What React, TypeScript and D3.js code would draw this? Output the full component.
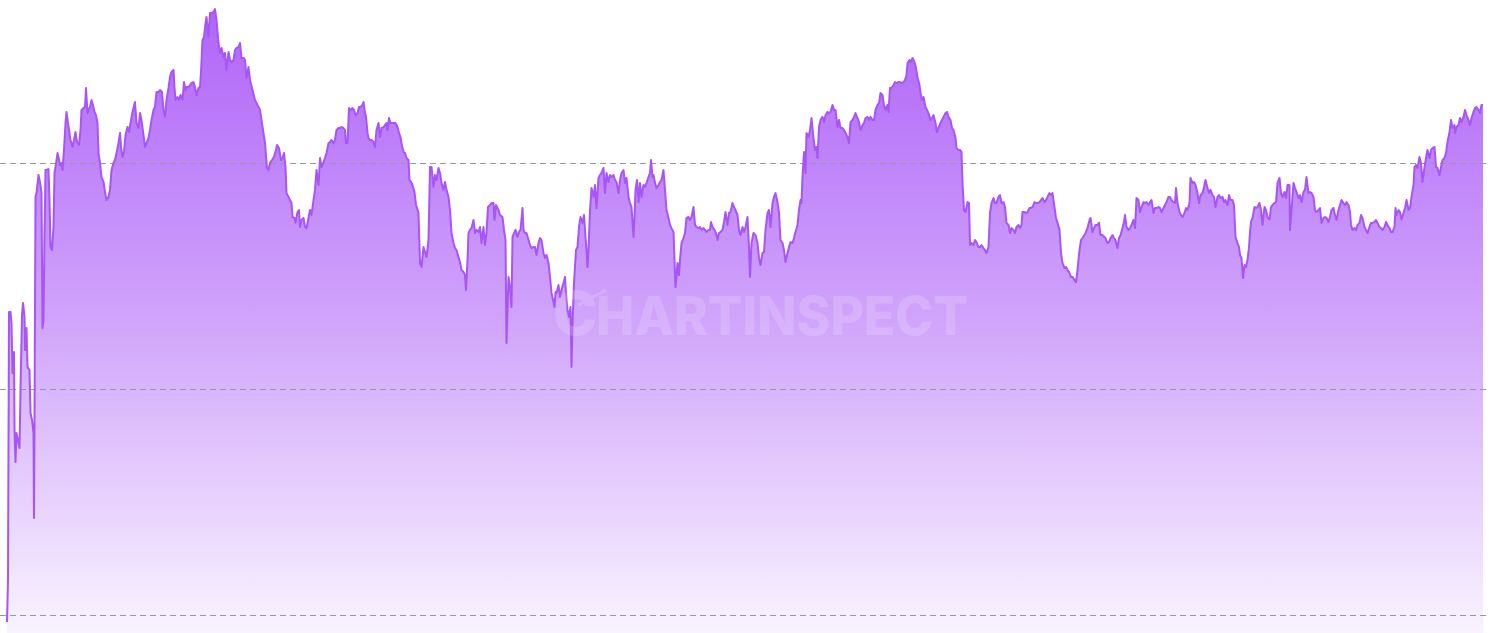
import React from "react";
import * as d3 from "d3";

const gridTicks: number[] = [0, 100, 200];
const watermarkText = "HARTINSPECT";
const dayCount = 2952;

// [day index, value]
const series: [number, number][] = [
  [0, -3.1], [2, 15.5], [4, 134.1], [7, 134.1], [9, 129.2], [11, 107.1], [14, 116.4], [15, 81.9], [17, 67.7], [19, 80.5],
  [23, 76.1], [25, 73.9], [27, 99.6], [30, 132.7], [32, 138.1], [35, 131.9], [36, 117.3], [39, 127.0], [41, 109.7], [45, 108.4],
  [47, 89.4], [50, 86.3], [53, 80.5], [54, 42.9], [55, 85.0], [57, 185.0], [59, 186.7], [63, 194.7], [66, 191.6], [69, 186.7],
  [71, 127.0], [73, 130.5], [75, 169.0], [77, 196.9], [83, 197.3], [85, 183.6], [87, 162.8], [90, 161.5], [93, 171.7], [95, 195.6],
  [97, 198.2], [101, 204.4], [103, 202.7], [106, 199.1], [109, 200.0], [111, 196.9], [114, 205.8], [117, 217.7], [119, 222.6], [122, 217.7],
  [125, 213.3], [127, 210.2], [131, 207.1], [134, 210.2], [137, 213.7], [140, 209.3], [144, 208.0], [147, 214.6], [149, 223.5], [153, 224.3],
  [156, 224.8], [158, 233.2], [161, 222.1], [163, 223.5], [166, 224.8], [169, 227.9], [173, 224.8], [175, 222.6], [178, 221.2], [181, 217.7],
  [183, 204.4], [186, 200.0], [189, 193.8], [193, 191.6], [196, 187.2], [199, 183.6], [203, 185.0], [206, 188.1], [209, 196.9], [213, 200.0],
  [216, 201.3], [219, 204.4], [223, 208.8], [226, 213.3], [228, 207.1], [231, 202.7], [234, 204.9], [237, 212.4], [241, 215.9], [244, 213.7],
  [247, 217.7], [251, 222.6], [256, 227.0], [259, 217.7], [263, 215.5], [266, 222.1], [269, 219.0], [273, 212.4], [276, 207.1], [279, 208.8],
  [283, 211.1], [286, 214.6], [289, 219.0], [293, 223.5], [296, 224.8], [299, 231.4], [303, 231.4], [306, 232.3], [310, 231.4], [313, 223.5],
  [316, 220.4], [319, 227.9], [323, 233.2], [326, 238.1], [329, 240.3], [333, 241.2], [335, 233.6], [337, 227.9], [341, 229.2], [344, 227.9],
  [347, 230.1], [351, 227.9], [354, 235.8], [357, 232.3], [359, 233.6], [363, 233.6], [366, 234.5], [369, 235.4], [373, 235.8], [376, 233.6],
  [379, 230.1], [383, 233.2], [386, 233.6], [388, 240.3], [391, 254.4], [394, 255.8], [397, 261.9], [399, 264.6], [403, 255.8], [406, 266.4],
  [409, 266.4], [413, 266.8], [416, 268.1], [419, 263.3], [423, 253.1], [426, 248.7], [429, 250.9], [433, 246.9], [436, 248.7], [439, 241.2],
  [443, 249.1], [446, 245.6], [449, 244.7], [453, 245.6], [456, 250.0], [459, 250.9], [463, 251.3], [466, 253.1], [469, 246.5], [473, 246.5],
  [476, 245.6], [479, 237.6], [483, 242.5], [486, 236.7], [496, 227.9], [506, 223.5], [512, 214.6], [516, 208.8], [520, 197.8], [523, 196.9],
  [526, 200.0], [530, 201.3], [534, 202.7], [538, 205.8], [540, 208.0], [544, 206.6], [548, 201.3], [551, 202.2], [554, 204.4], [557, 198.2],
  [559, 186.7], [563, 185.0], [566, 183.6], [569, 182.3], [571, 176.1], [575, 175.7], [577, 173.5], [581, 178.3], [584, 179.2], [586, 171.7],
  [589, 174.8], [593, 175.7], [596, 171.7], [599, 171.2], [603, 175.7], [606, 179.2], [609, 177.0], [613, 183.6], [616, 188.1], [619, 196.9],
  [623, 190.3], [626, 202.2], [629, 198.2], [633, 200.4], [636, 202.2], [639, 204.4], [643, 208.8], [646, 209.3], [649, 210.2], [653, 208.8],
  [656, 210.2], [659, 214.6], [663, 215.5], [666, 215.5], [669, 215.9], [673, 215.5], [676, 214.6], [678, 208.8], [681, 208.8], [684, 224.3],
  [687, 223.5], [691, 224.3], [694, 223.5], [697, 221.2], [701, 222.1], [704, 224.8], [707, 224.8], [711, 225.7], [713, 227.0], [715, 223.5],
  [718, 220.4], [721, 213.3], [723, 211.1], [726, 210.2], [729, 210.2], [733, 209.3], [736, 207.1], [739, 214.6], [743, 217.7], [746, 211.5],
  [749, 215.5], [753, 215.9], [756, 216.8], [759, 217.7], [761, 214.6], [764, 219.9], [767, 217.7], [771, 217.7], [774, 217.7], [777, 217.7],
  [781, 215.9], [784, 213.3], [787, 211.5], [789, 208.8], [793, 204.9], [796, 204.4], [799, 202.2], [803, 201.3], [805, 192.5], [808, 191.6],
  [811, 190.3], [815, 187.2], [818, 181.4], [823, 177.9], [826, 155.8], [829, 154.0], [833, 162.8], [836, 160.6], [839, 158.4], [843, 165.9],
  [846, 198.2], [849, 198.2], [853, 189.4], [856, 194.7], [859, 192.5], [863, 197.8], [866, 195.6], [869, 191.2], [873, 188.1], [876, 191.6],
  [879, 188.1], [883, 185.0], [886, 179.2], [889, 169.0], [893, 164.6], [896, 162.4], [899, 161.5], [903, 158.4], [906, 156.2], [909, 152.7],
  [913, 151.8], [916, 150.4], [918, 143.8], [921, 157.1], [923, 169.0], [926, 170.4], [929, 171.2], [933, 174.8], [936, 169.0], [939, 170.4],
  [943, 169.5], [946, 171.7], [949, 164.6], [953, 171.7], [956, 163.7], [959, 169.0], [962, 180.5], [966, 181.4], [969, 182.3], [973, 182.3],
  [975, 174.8], [978, 181.4], [983, 179.2], [986, 177.0], [991, 176.1], [994, 170.4], [997, 165.9], [999, 120.4], [1003, 149.6], [1006, 145.1],
  [1009, 136.3], [1011, 167.3], [1015, 169.5], [1017, 170.4], [1021, 167.3], [1024, 169.5], [1027, 170.4], [1031, 180.1], [1033, 170.4], [1036, 169.0],
  [1039, 169.0], [1043, 165.9], [1046, 163.7], [1049, 162.4], [1053, 162.8], [1056, 162.8], [1059, 159.3], [1063, 164.6], [1066, 166.8], [1069, 165.9],
  [1073, 160.2], [1076, 158.0], [1079, 159.3], [1083, 155.8], [1086, 149.6], [1089, 142.5], [1093, 138.5], [1095, 136.3], [1097, 142.9], [1099, 142.5],
  [1103, 146.0], [1106, 140.7], [1109, 143.8], [1113, 146.9], [1116, 149.6], [1118, 142.5], [1121, 135.0], [1124, 131.9], [1127, 136.3], [1129, 109.7],
  [1131, 129.2], [1134, 146.9], [1138, 161.5], [1141, 162.8], [1144, 171.7], [1147, 176.1], [1151, 173.5], [1154, 177.0], [1157, 167.3], [1159, 161.5],
  [1161, 154.0], [1163, 161.5], [1166, 179.2], [1169, 188.9], [1173, 185.0], [1176, 190.3], [1179, 180.1], [1183, 193.4], [1186, 194.7], [1189, 195.6],
  [1193, 197.8], [1196, 186.7], [1199, 195.6], [1203, 191.6], [1206, 194.7], [1209, 193.8], [1213, 194.7], [1216, 192.5], [1219, 191.6], [1223, 186.7],
  [1226, 192.5], [1229, 195.6], [1233, 196.9], [1236, 191.2], [1239, 193.4], [1243, 185.0], [1246, 182.3], [1249, 180.5], [1253, 167.3], [1255, 176.1],
  [1257, 188.1], [1260, 192.5], [1263, 182.7], [1266, 191.2], [1269, 185.0], [1273, 190.3], [1276, 189.4], [1279, 191.2], [1283, 193.8], [1286, 195.6],
  [1288, 201.3], [1291, 193.8], [1293, 194.7], [1296, 191.2], [1299, 188.9], [1303, 190.3], [1306, 191.6], [1309, 192.5], [1313, 196.9], [1316, 188.1],
  [1319, 179.2], [1323, 175.7], [1326, 172.6], [1329, 171.2], [1333, 169.5], [1335, 157.1], [1337, 145.1], [1341, 155.8], [1344, 150.4], [1346, 157.1],
  [1349, 164.6], [1353, 166.8], [1356, 169.0], [1359, 175.7], [1363, 176.1], [1366, 174.8], [1369, 176.1], [1373, 180.5], [1376, 172.6], [1379, 171.7],
  [1383, 171.2], [1386, 171.7], [1389, 170.4], [1393, 171.2], [1396, 170.4], [1399, 169.5], [1403, 170.4], [1406, 170.4], [1408, 173.9], [1411, 171.7],
  [1415, 170.4], [1418, 169.0], [1421, 165.9], [1424, 169.0], [1427, 169.5], [1431, 170.4], [1434, 173.9], [1437, 178.3], [1441, 172.6], [1444, 177.9],
  [1447, 178.3], [1451, 182.3], [1454, 180.5], [1457, 179.2], [1461, 177.0], [1464, 170.4], [1467, 168.1], [1471, 171.7], [1474, 169.5], [1477, 171.7],
  [1481, 176.1], [1484, 162.8], [1486, 149.6], [1489, 164.6], [1493, 169.0], [1497, 168.1], [1501, 164.6], [1504, 158.0], [1507, 154.9], [1511, 160.2],
  [1514, 160.6], [1517, 170.4], [1521, 177.9], [1524, 179.2], [1527, 171.7], [1531, 182.3], [1534, 185.0], [1537, 186.7], [1541, 182.7], [1544, 177.9],
  [1547, 165.9], [1551, 164.6], [1554, 161.5], [1557, 156.2], [1561, 160.2], [1564, 162.8], [1567, 165.0], [1571, 164.6], [1574, 166.8], [1577, 169.5],
  [1581, 172.6], [1584, 179.2], [1587, 183.6], [1589, 182.3], [1591, 193.8], [1594, 204.9], [1597, 195.6], [1599, 213.3], [1603, 211.5], [1606, 214.6],
  [1609, 219.9], [1613, 211.1], [1616, 205.8], [1619, 207.1], [1621, 202.2], [1624, 215.9], [1627, 219.0], [1631, 220.4], [1634, 218.1], [1637, 221.2],
  [1641, 222.6], [1644, 222.1], [1647, 222.6], [1651, 225.7], [1654, 223.5], [1657, 223.5], [1661, 215.9], [1664, 219.0], [1667, 215.5], [1671, 215.5],
  [1674, 214.6], [1677, 213.3], [1681, 211.5], [1684, 208.8], [1687, 218.1], [1691, 219.0], [1694, 220.4], [1697, 222.1], [1701, 219.9], [1704, 218.1],
  [1707, 214.6], [1711, 216.8], [1714, 217.7], [1717, 219.9], [1721, 220.4], [1724, 219.0], [1727, 220.4], [1731, 219.0], [1734, 219.0], [1737, 223.5],
  [1741, 225.7], [1744, 226.5], [1747, 231.0], [1751, 230.1], [1754, 225.7], [1757, 223.5], [1761, 225.7], [1763, 222.6], [1766, 233.2], [1769, 233.2],
  [1773, 234.5], [1776, 235.8], [1779, 235.4], [1783, 235.8], [1786, 235.8], [1789, 235.4], [1793, 235.8], [1796, 236.7], [1799, 238.9], [1801, 244.2],
  [1805, 245.6], [1808, 244.7], [1811, 246.5], [1815, 244.7], [1818, 242.0], [1821, 238.1], [1825, 234.5], [1827, 231.0], [1830, 227.9], [1833, 229.2],
  [1837, 224.8], [1840, 223.5], [1843, 222.1], [1847, 219.0], [1850, 219.9], [1853, 221.2], [1857, 217.7], [1860, 213.7], [1863, 215.5], [1867, 217.7],
  [1870, 219.0], [1873, 220.4], [1877, 222.1], [1880, 222.6], [1883, 220.4], [1887, 219.0], [1890, 215.5], [1893, 214.6], [1897, 211.1], [1899, 206.6],
  [1903, 205.8], [1906, 205.8], [1909, 204.9], [1911, 191.2], [1914, 179.2], [1917, 178.3], [1921, 182.7], [1924, 182.3], [1926, 163.7], [1929, 164.6],
  [1933, 163.7], [1936, 165.9], [1939, 165.0], [1943, 162.8], [1946, 162.8], [1949, 163.7], [1953, 162.4], [1956, 161.5], [1959, 160.2], [1963, 162.8],
  [1966, 177.9], [1969, 182.3], [1973, 184.5], [1976, 182.3], [1979, 182.3], [1983, 185.0], [1986, 185.8], [1989, 182.3], [1993, 182.7], [1996, 180.5],
  [1999, 173.5], [2003, 172.6], [2006, 169.0], [2009, 171.2], [2013, 170.4], [2016, 169.0], [2019, 171.7], [2023, 172.6], [2026, 171.2], [2029, 172.6],
  [2031, 178.3], [2035, 178.3], [2038, 177.9], [2041, 178.3], [2045, 180.1], [2048, 180.1], [2051, 180.5], [2055, 182.7], [2058, 182.3], [2061, 182.3],
  [2065, 182.7], [2068, 183.6], [2071, 184.5], [2075, 182.7], [2078, 183.6], [2081, 185.0], [2085, 186.7], [2088, 185.8], [2091, 186.7], [2095, 180.5],
  [2098, 175.7], [2101, 173.5], [2105, 170.4], [2108, 160.2], [2111, 155.8], [2115, 153.5], [2118, 154.0], [2121, 152.7], [2125, 151.3], [2128, 149.6],
  [2131, 149.6], [2135, 148.2], [2138, 147.3], [2141, 152.7], [2145, 161.5], [2148, 165.9], [2151, 166.8], [2155, 168.1], [2158, 169.5], [2161, 171.2],
  [2165, 174.8], [2167, 175.7], [2171, 169.5], [2174, 171.2], [2177, 172.6], [2181, 172.6], [2184, 173.5], [2187, 168.1], [2191, 168.1], [2194, 167.3],
  [2197, 166.8], [2201, 164.6], [2204, 165.0], [2207, 166.8], [2211, 168.1], [2214, 166.8], [2217, 165.9], [2221, 162.4], [2224, 166.8], [2227, 168.1],
  [2231, 171.2], [2234, 173.9], [2236, 177.0], [2239, 171.7], [2243, 170.4], [2246, 171.2], [2249, 172.6], [2253, 174.8], [2256, 171.2], [2259, 184.5],
  [2263, 183.6], [2266, 178.3], [2269, 180.5], [2273, 182.7], [2276, 182.3], [2279, 182.7], [2283, 181.4], [2286, 182.7], [2289, 183.6], [2293, 177.9],
  [2296, 180.1], [2299, 180.1], [2303, 180.5], [2306, 180.1], [2309, 178.3], [2313, 180.1], [2316, 181.4], [2319, 182.7], [2323, 185.0], [2326, 185.0],
  [2329, 183.6], [2333, 182.7], [2336, 182.3], [2338, 188.9], [2341, 182.3], [2345, 178.3], [2348, 177.0], [2351, 176.1], [2355, 177.9], [2358, 180.1],
  [2361, 179.2], [2365, 182.3], [2367, 193.4], [2371, 191.2], [2374, 191.6], [2377, 190.3], [2381, 186.7], [2384, 182.3], [2387, 185.8], [2391, 186.7],
  [2394, 189.4], [2397, 192.5], [2401, 188.9], [2404, 186.7], [2407, 188.1], [2411, 185.8], [2414, 185.0], [2417, 180.5], [2421, 185.0], [2424, 185.8],
  [2427, 184.5], [2431, 185.0], [2434, 182.7], [2437, 183.6], [2441, 181.4], [2444, 185.8], [2447, 183.6], [2451, 183.6], [2454, 181.4], [2457, 167.3],
  [2461, 164.6], [2464, 162.8], [2466, 159.3], [2469, 157.9], [2472, 149.1], [2475, 154.9], [2478, 154.0], [2481, 157.1], [2484, 162.8], [2486, 169.5],
  [2488, 173.9], [2491, 175.7], [2495, 180.5], [2498, 180.1], [2501, 180.5], [2505, 182.3], [2508, 179.2], [2511, 172.6], [2515, 180.5], [2518, 179.2],
  [2521, 176.1], [2525, 175.0], [2528, 180.5], [2531, 181.4], [2535, 182.3], [2538, 182.7], [2541, 191.2], [2545, 193.4], [2548, 186.7], [2551, 185.0],
  [2555, 187.2], [2558, 184.5], [2561, 190.3], [2565, 190.3], [2566, 170.4], [2569, 179.2], [2573, 191.2], [2576, 188.9], [2579, 187.2], [2583, 184.5],
  [2586, 185.8], [2589, 182.7], [2593, 187.2], [2596, 188.1], [2599, 193.8], [2603, 186.7], [2606, 187.2], [2609, 186.7], [2613, 185.0], [2616, 179.2],
  [2619, 178.3], [2623, 179.2], [2626, 180.1], [2629, 173.5], [2633, 175.7], [2636, 176.1], [2639, 175.7], [2643, 173.9], [2646, 176.1], [2649, 179.2],
  [2653, 180.1], [2656, 177.0], [2659, 174.8], [2663, 179.2], [2666, 181.4], [2669, 183.6], [2673, 182.3], [2676, 181.4], [2679, 182.7], [2683, 181.4],
  [2686, 178.3], [2688, 172.6], [2691, 170.4], [2695, 171.2], [2698, 170.4], [2701, 172.6], [2705, 173.5], [2708, 177.0], [2711, 175.7], [2715, 171.7],
  [2718, 170.4], [2721, 169.0], [2725, 171.7], [2728, 173.5], [2731, 173.5], [2735, 173.9], [2738, 174.8], [2741, 173.5], [2745, 171.7], [2748, 171.2],
  [2751, 170.4], [2755, 171.7], [2758, 173.9], [2761, 172.6], [2765, 171.2], [2768, 169.5], [2771, 169.5], [2775, 171.7], [2777, 180.1], [2779, 177.0],
  [2783, 179.2], [2786, 178.3], [2789, 175.0], [2793, 177.9], [2796, 180.1], [2799, 183.6], [2803, 179.2], [2806, 180.1], [2809, 185.0], [2813, 190.3],
  [2815, 198.2], [2818, 199.1], [2821, 197.8], [2825, 202.7], [2828, 200.0], [2831, 191.6], [2835, 198.2], [2838, 202.2], [2841, 205.8], [2845, 202.2],
  [2848, 205.8], [2851, 206.6], [2855, 207.1], [2858, 198.2], [2861, 197.8], [2865, 194.7], [2868, 198.2], [2871, 201.3], [2875, 202.2], [2878, 204.4],
  [2881, 209.3], [2885, 213.7], [2888, 219.0], [2891, 215.5], [2895, 216.8], [2896, 213.3], [2899, 215.9], [2903, 216.8], [2906, 219.9], [2909, 218.1],
  [2913, 220.4], [2916, 223.5], [2919, 221.2], [2923, 219.0], [2926, 216.8], [2929, 219.9], [2933, 222.6], [2936, 224.3], [2939, 224.8], [2943, 223.5],
  [2946, 222.1], [2949, 225.7], [2952, 225.7],
];

const W = 1490;
const H = 633;

export default function App() {
  const x = d3.scaleLinear().domain([0, dayCount]).range([7, 1483]);
  const y = d3.scaleLinear().domain([0, 200]).range([615, 163]);

  const area = d3
    .area<[number, number]>()
    .x((d) => x(d[0]))
    .y0(H)
    .y1((d) => y(d[1]))
    .curve(d3.curveLinear);
  const line = d3
    .line<[number, number]>()
    .x((d) => x(d[0]))
    .y((d) => y(d[1]))
    .curve(d3.curveLinear);

  return (
    <svg
      width={W}
      height={H}
      style={{ position: "absolute", left: 0, top: 0, display: "block", background: "#ffffff" }}
    >
      <defs>
        <linearGradient id="fillGrad" gradientUnits="userSpaceOnUse" x1="0" y1="0" x2="0" y2={H}>
          <stop offset="0%" stopColor="#a855f7" stopOpacity={0.92} />
          <stop offset="50%" stopColor="#a855f7" stopOpacity={0.54} />
          <stop offset="100%" stopColor="#a855f7" stopOpacity={0.07} />
        </linearGradient>
      </defs>
      <path d={area(series) || ""} fill="url(#fillGrad)" />
      <g>
        {gridTicks.map((t) => (
          <line
            key={t}
            x1={0}
            x2={1486}
            y1={Math.round(y(t)) + 0.5}
            y2={Math.round(y(t)) + 0.5}
            stroke="#9a9a9a"
            strokeWidth={1}
            strokeDasharray="6,4"
          />
        ))}
      </g>
      <path d={line(series) || ""} fill="none" stroke="#a855f7" strokeWidth={2} strokeLinejoin="round" />
      <g opacity={0.16} fill="#ffffff" style={{ fontFamily: "Inter, 'Liberation Sans', Arial, sans-serif", fontWeight: 800 }}>
        <text x={553} y={335} fontSize={60}>C</text>
        <line x1={578} y1={305} x2={606} y2={290} stroke="#ffffff" strokeWidth={3} />
        <text x={596} y={335} fontSize={53} textLength={372} lengthAdjust="spacingAndGlyphs">
          {watermarkText}
        </text>
      </g>
    </svg>
  );
}
